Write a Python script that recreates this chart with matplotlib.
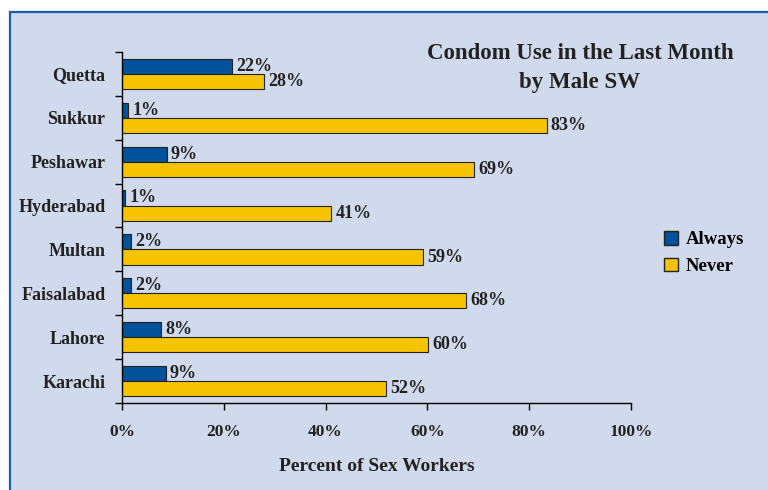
import numpy as np
import matplotlib.pyplot as plt
from matplotlib.patches import Rectangle, Patch
from matplotlib.ticker import FixedLocator, PercentFormatter

cities = ['Quetta', 'Sukkur', 'Peshawar', 'Hyderabad', 'Multan', 'Faisalabad', 'Lahore', 'Karachi']
always = [21.6, 1.2, 8.8, 0.6, 1.7, 1.8, 7.7, 8.6]
never = [27.9, 83.4, 69.2, 41.1, 59.2, 67.6, 60.2, 51.8]
always_labels = ['22%', '1%', '9%', '1%', '2%', '2%', '8%', '9%']
never_labels = ['28%', '83%', '69%', '41%', '59%', '68%', '60%', '52%']

BLUE = '#03529b'
YELLOW = '#f6c300'
BG = '#d0daec'
FONT = 'Liberation Serif'

plt.rcParams['font.family'] = FONT
plt.rcParams['font.weight'] = 'bold'

fig = plt.figure(figsize=(7.68, 4.90), dpi=100, facecolor='white')
fig.patches.append(Rectangle((10 / 768, -0.1), 1.1, 1 - 12 / 490 + 0.1, transform=fig.transFigure,
                             facecolor=BG, edgecolor='#1f5ca8', linewidth=1.6, zorder=-10))

ax = fig.add_axes([122 / 768, 1 - 403 / 490, (631 - 122) / 768, (403 - 52) / 490])
ax.set_facecolor('none')

pos = np.arange(len(cities)) + 0.5
h = 0.345
ax.barh(pos - h / 2, always, height=h, color=BLUE, edgecolor='#222222', linewidth=0.8, label='Always')
ax.barh(pos + h / 2, never, height=h, color=YELLOW, edgecolor='#222222', linewidth=0.8, label='Never')

for y, v, t in zip(pos, always, always_labels):
    ax.annotate(t, (v, y - h / 2), xytext=(3, 0), textcoords='offset points', va='center', ha='left',
                fontsize=13, fontweight='bold', color='#222222')
for y, v, t in zip(pos, never, never_labels):
    ax.annotate(t, (v, y + h / 2), xytext=(3, 0), textcoords='offset points', va='center', ha='left',
                fontsize=13, fontweight='bold', color='#222222')

ax.set_xlim(0, 100)
ax.set_ylim(len(cities), 0)
ax.xaxis.set_major_locator(FixedLocator([0, 20, 40, 60, 80, 100]))
ax.xaxis.set_major_formatter(PercentFormatter(decimals=0))
ax.yaxis.set_major_locator(FixedLocator(np.arange(len(cities) + 1)))
ax.yaxis.set_major_formatter(plt.NullFormatter())
ax.yaxis.set_minor_locator(FixedLocator(pos))
ax.set_yticklabels(cities, minor=True)
ax.tick_params(axis='y', which='major', length=5, width=1, direction='out')
ax.tick_params(axis='y', which='minor', length=0, pad=12, labelsize=13, labelcolor='#222222')
ax.tick_params(axis='x', length=5, width=1, direction='out', pad=10, labelsize=12.5, labelcolor='#222222')
for lab in ax.get_yticklabels(minor=True) + ax.get_xticklabels():
    lab.set_fontweight('bold')

for s in ['top', 'right']:
    ax.spines[s].set_visible(False)
ax.spines['left'].set_linewidth(1)
ax.spines['bottom'].set_linewidth(1)

ax.set_xlabel('Percent of Sex Workers', fontsize=14, fontweight='bold', color='#222222', labelpad=13)

fig.text(580 / 768, 1 - 68 / 490, 'Condom Use in the Last Month\nby Male SW', ha='center', va='center',
         fontsize=16.5, fontweight='bold', color='#222222', linespacing=1.55)

handles = [Patch(facecolor=BLUE, edgecolor='#222222', label='Always'),
           Patch(facecolor=YELLOW, edgecolor='#222222', label='Never')]
fig.legend(handles=handles, loc='center left', bbox_to_anchor=(647 / 768, 1 - 253 / 490), frameon=False,
           handlelength=0.75, handleheight=0.75, handletextpad=0.4, labelspacing=0.5,
           prop={'family': FONT, 'weight': 'bold', 'size': 13.5})

fig.savefig('out.png', dpi=100, facecolor='white')
